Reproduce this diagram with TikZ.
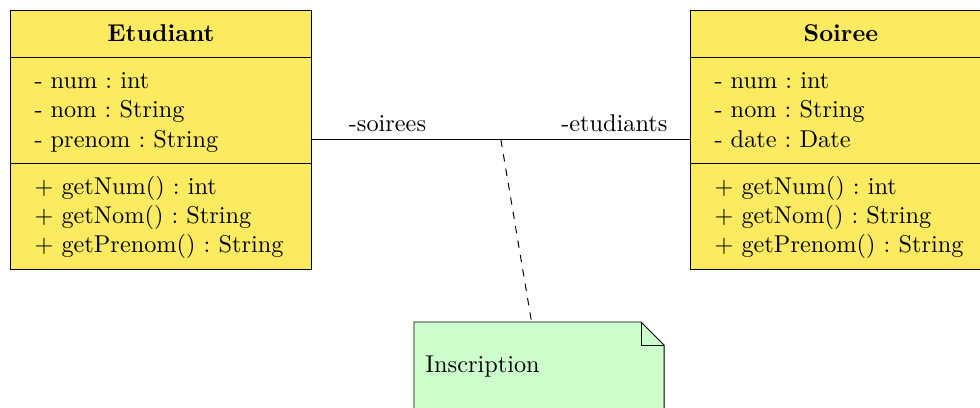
\documentclass[tikz,border=0pt]{standalone}
\usetikzlibrary{shapes.multipart,backgrounds}
\definecolor{classyellow}{RGB}{252,235,97}
\definecolor{notegreen}{RGB}{204,255,204}
\frenchspacing
\newcommand{\ustrut}{\rule[-3.5pt]{0pt}{12.9pt}}
\newcommand{\classtitle}[1]{\makebox[\linewidth]{\ustrut\textbf{#1}}}
\begin{document}
\begin{tikzpicture}[x=0.4115pt,y=-0.4115pt,
    class node/.style={rectangle split,rectangle split parts=3,draw,fill=classyellow,
      text width=104pt,inner xsep=9.9pt,inner ysep=3.1pt,align=left,anchor=north west},
    note node/.style={rectangle,text width=93.5pt,inner xsep=4.5pt,minimum height=36.2pt,
      align=left,anchor=north west}]
  \useasboundingbox (0,0) rectangle (980,408);
  % classes
  \node[class node] (etudiant) at (10,10) {\classtitle{Etudiant}
    \nodepart{two} \ustrut- num : int\\ - nom : String\\ \ustrut- prenom : String
    \nodepart{three} \ustrut$+$ getNum() : int\\ $+$ getNom() : String\\ \ustrut$+$ getPrenom() : String};
  \node[class node] (soiree) at (690,10) {\classtitle{Soiree}
    \nodepart{two} \ustrut- num : int\\ - nom : String\\ \ustrut- date : Date
    \nodepart{three} \ustrut$+$ getNum() : int\\ $+$ getNom() : String\\ \ustrut$+$ getPrenom() : String};
  % association
  \draw (etudiant.east) -- node[pos=0.2,above] (soirees) {-soirees}
    node[pos=0.8,above] (etudiants) {-etudiants} coordinate[pos=0.5] (mid) (soiree.west);
  % note
  \node[note node] (inscription) at (414,322) {Inscription};
  \begin{scope}[on background layer]
    \filldraw[fill=notegreen] (inscription.north west) -- ([xshift=-9.5pt]inscription.north east)
      -- ([yshift=-9.5pt]inscription.north east) -- (inscription.south east)
      -- (inscription.south west) -- cycle;
  \end{scope}
  \draw ([xshift=-9.5pt]inscription.north east) |- ([yshift=-9.5pt]inscription.north east);
  \draw[dashed] (mid) -- (inscription);
\end{tikzpicture}
\end{document}
